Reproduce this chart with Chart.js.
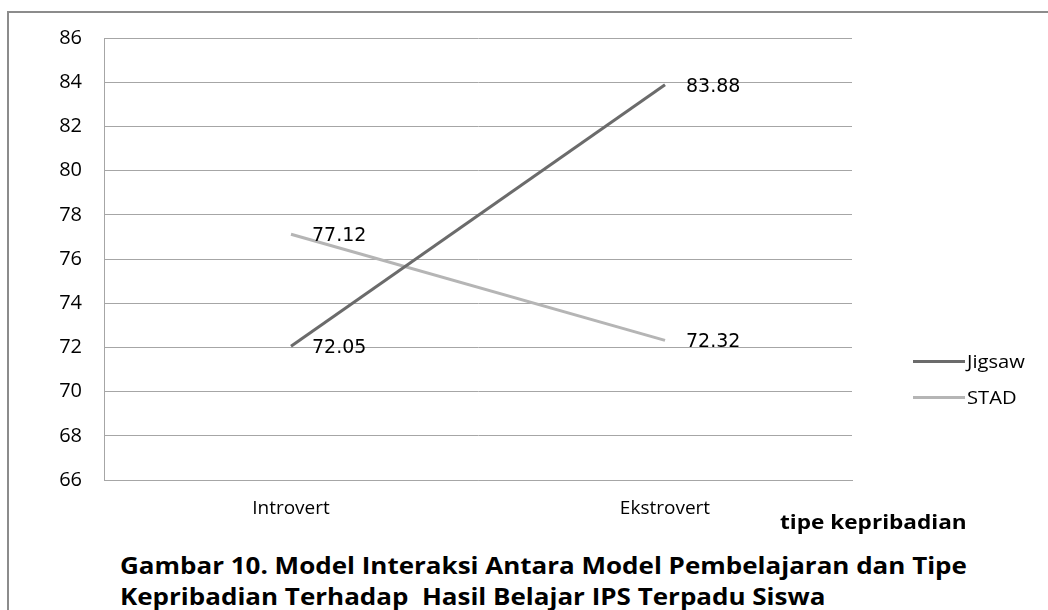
<!DOCTYPE html>
<html>
<head>
<meta charset="utf-8">
<script src="https://cdn.jsdelivr.net/npm/chart.js@4.4.1/dist/chart.umd.min.js"></script>
<style>
  html, body { margin: 0; padding: 0; background: #fff; }
  #wrap { position: relative; width: 1048px; height: 610px; overflow: hidden; }
  #frame { position: absolute; left: 7px; top: 11px; width: 1060px; height: 620px; border-left: 2px solid #8c8c8c; border-top: 2px solid #8c8c8c; }
  #chart { position: absolute; left: 0; top: 0; }
  .leg { position: absolute; left: 913px; font: 18px "Open Sans", sans-serif; color: #000; display: flex; align-items: center; }
  .leg span.ln { display: inline-block; width: 52px; height: 3px; margin-right: 2px; }
  .leg span.t { display: inline-block; transform: scaleX(1.12); transform-origin: left center; }
  .txt { position: absolute; font-family: "Open Sans", sans-serif; font-weight: bold; color: #000; white-space: nowrap; transform-origin: left top; }
</style>
</head>
<body>
<div id="wrap">
  <div id="frame"></div>
  <canvas id="chart" width="1048" height="530"></canvas>
  <div class="leg" style="top:349px"><span class="ln" style="background:#6b6b6b"></span><span class="t">Jigsaw</span></div>
  <div class="leg" style="top:385px"><span class="ln" style="background:#b5b5b5"></span><span class="t">STAD</span></div>
  <div class="txt" style="left:780px; top:508px; font-size:20px; transform:scaleX(1.13)">tipe kepribadian</div>
  <div class="txt" style="left:120px; top:549px; font-size:23px; transform:scaleX(1.13)">Gambar 10. Model Interaksi Antara Model Pembelajaran dan Tipe</div>
  <div class="txt" style="left:120px; top:580px; font-size:23px; transform:scaleX(1.13)">Kepribadian Terhadap&nbsp; Hasil Belajar IPS Terpadu Siswa</div>
</div>
<script>
const categories = ['Introvert', 'Ekstrovert'];
const jigsawValues = [72.05, 83.88];
const stadValues = [77.12, 72.32];
const seriesNames = ['Jigsaw', 'STAD'];

// labels drawn to the right of each point
const pointLabels = {
    id: 'pointLabels',
    afterDatasetsDraw(chart) {
        const ctx = chart.ctx;
        ctx.save();
        ctx.font = '19px "DejaVu Sans", sans-serif';
        ctx.fillStyle = '#000';
        ctx.textAlign = 'left';
        ctx.textBaseline = 'middle';
        chart.data.datasets.forEach((ds, i) => {
            chart.getDatasetMeta(i).data.forEach((pt, j) => {
                ctx.fillText(ds.data[j].toFixed(2), pt.x + 21, pt.y + 2);
            });
        });
        ctx.restore();
    }
};

new Chart(document.getElementById('chart'), {
    type: 'line',
    data: {
        labels: categories,
        datasets: [
            {
                label: seriesNames[0],
                data: jigsawValues,
                borderColor: '#6b6b6b',
                borderWidth: 3,
                pointRadius: 0,
                tension: 0
            },
            {
                label: seriesNames[1],
                data: stadValues,
                borderColor: '#b5b5b5',
                borderWidth: 3,
                pointRadius: 0,
                tension: 0
            }
        ]
    },
    options: {
        responsive: false,
        animation: false,
        layout: { padding: { top: 38, left: 0, right: 196, bottom: 0 } },
        plugins: {
            legend: { display: false },
            tooltip: { enabled: false }
        },
        scales: {
            x: {
                offset: true,
                afterFit: s => { s.height = 50; },
                grid: { display: false, drawTicks: false },
                border: { color: '#a6a6a6', width: 1 },
                ticks: { color: '#000', padding: 17, font: { family: 'Open Sans', size: 19 } }
            },
            y: {
                min: 66,
                max: 86,
                afterFit: s => { s.width = 104; },
                grid: { color: '#a6a6a6', lineWidth: 1, drawTicks: false },
                border: { color: '#a6a6a6', width: 1 },
                ticks: { stepSize: 2, color: '#000', padding: 22, font: { family: 'Open Sans', size: 20 } }
            }
        }
    },
    plugins: [pointLabels]
});
</script>
</body>
</html>
